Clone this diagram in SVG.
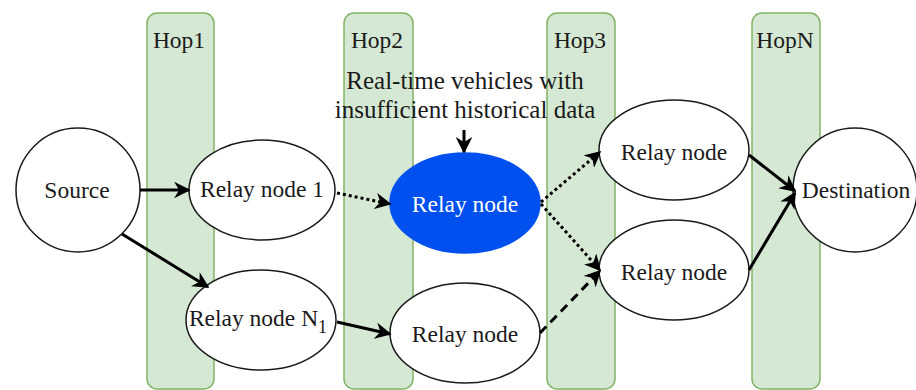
<svg xmlns="http://www.w3.org/2000/svg" width="916" height="390" viewBox="0 0 916 390" font-family="'Liberation Serif', 'DejaVu Serif', serif">
  <defs>
    <marker id="arr" viewBox="0 0 10 10" refX="9" refY="5" markerWidth="5.5" markerHeight="5.5" markerUnits="strokeWidth" orient="auto">
      <path d="M0,0 L10,5 L0,10 L3,5 Z" fill="#000"/>
    </marker>
    <style>
      text { font-family: 'Liberation Serif', 'DejaVu Serif', serif; font-size: 23.5px; fill: #1a1a1a; text-anchor: middle; }
      .note { font-size: 25px; }
      .hop { fill: #d5e8d4; stroke: #82b366; stroke-width: 1.5; }
      .node { fill: #fff; stroke: #1a1a1a; stroke-width: 1.5; }
      .blue { fill: #0050ef; stroke: #0050ef; stroke-width: 1.5; }
      .edge { fill: none; stroke: #000; stroke-width: 3; marker-end: url(#arr); }
      .dot { stroke-dasharray: 3 3; }
      .dash { stroke-dasharray: 9 6; }
    </style>
  </defs>
  <rect width="916" height="390" fill="#fff"/>

  <!-- hop lanes -->
  <g id="hop1"><rect class="hop" x="147" y="13" width="67" height="376" rx="10"/><text x="179" y="48">Hop1</text></g>
  <g id="hop2"><rect class="hop" x="344" y="13" width="69" height="376" rx="10"/><text x="377" y="48">Hop2</text></g>
  <g id="hop3"><rect class="hop" x="547" y="13" width="68" height="376" rx="10"/><text x="580" y="48">Hop3</text></g>
  <g id="hopN"><rect class="hop" x="752" y="13" width="68" height="376" rx="10"/><text x="785" y="48">HopN</text></g>

  <!-- annotation -->
  <g id="note">
    <text class="note" x="465" y="89">Real-time vehicles with</text>
    <text class="note" x="465" y="118">insufficient historical data</text>
  </g>

  <!-- nodes -->
  <g id="source"><ellipse class="node" cx="78" cy="190" rx="62" ry="62"/><text x="77" y="198">Source</text></g>
  <g id="relay1"><ellipse class="node" cx="262" cy="190" rx="73" ry="50"/><text x="262" y="197">Relay node 1</text></g>
  <g id="relayBlue"><ellipse class="blue" cx="465" cy="203" rx="75" ry="50"/><text x="465" y="212" style="fill:#fff">Relay node</text></g>
  <g id="relayN1"><ellipse class="node" cx="261" cy="320" rx="75" ry="50"/><text x="258" y="326">Relay node N<tspan dy="7" font-size="18">1</tspan></text></g>
  <g id="relayBottom"><ellipse class="node" cx="465" cy="333" rx="75" ry="50"/><text x="465" y="342">Relay node</text></g>
  <g id="relayTopRight"><ellipse class="node" cx="674" cy="150" rx="75" ry="50"/><text x="674" y="160">Relay node</text></g>
  <g id="relayBottomRight"><ellipse class="node" cx="674" cy="270" rx="75" ry="50"/><text x="674" y="280">Relay node</text></g>
  <g id="destination"><ellipse class="node" cx="855" cy="190" rx="62" ry="62"/><text x="856" y="198">Destination</text></g>

  <!-- connectors -->
  <g id="edges">
    <line class="edge" x1="140" y1="190" x2="189" y2="190"/>
    <line class="edge" x1="122" y1="234" x2="208" y2="287"/>
    <line class="edge dot" x1="337" y1="193" x2="390" y2="204"/>
    <line class="edge" x1="337" y1="322" x2="390" y2="334"/>
    <line class="edge" x1="464" y1="130" x2="464" y2="152"/>
    <line class="edge dot" x1="541" y1="202" x2="600" y2="152"/>
    <line class="edge dot" x1="541" y1="204" x2="600" y2="270"/>
    <line class="edge dash" x1="540" y1="333" x2="600" y2="271"/>
    <line class="edge" x1="749" y1="155" x2="795" y2="191"/>
    <line class="edge" x1="749" y1="270" x2="795" y2="193"/>
  </g>
</svg>
